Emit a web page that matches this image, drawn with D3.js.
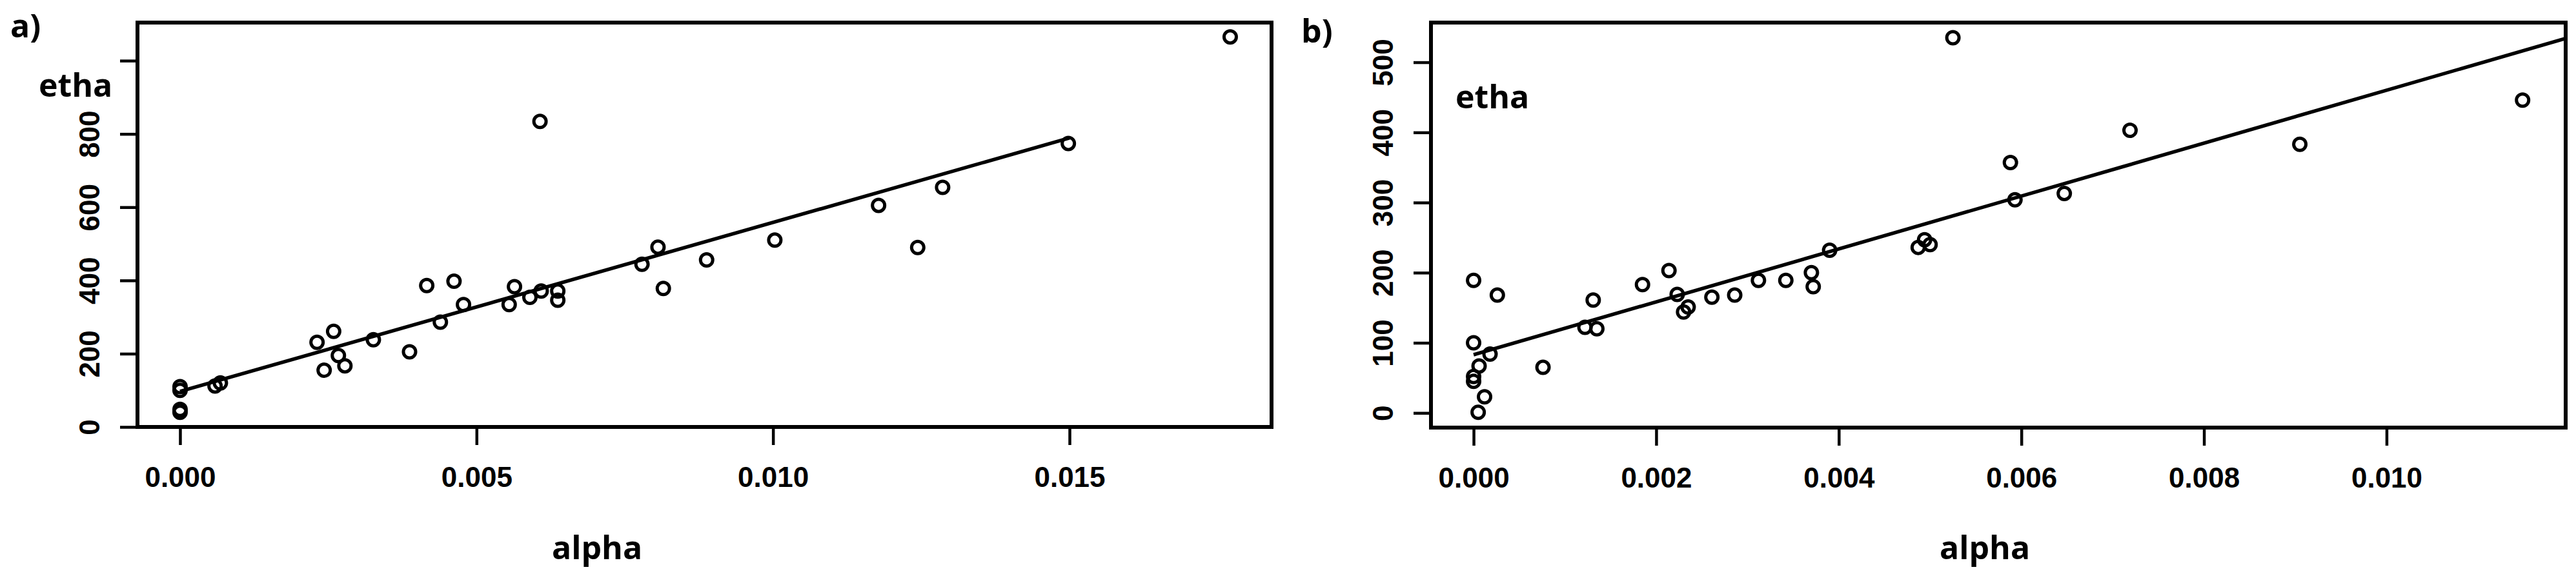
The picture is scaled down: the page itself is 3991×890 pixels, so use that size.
<!DOCTYPE html>
<html>
<head>
<meta charset="utf-8">
<script src="https://cdn.jsdelivr.net/npm/d3@7/dist/d3.min.js"></script>
<style>
  html, body { margin: 0; padding: 0; background: #ffffff; }
  svg { display: block; }
</style>
</head>
<body>
<script>
// ---------------- data ----------------
const alphaA = [0, 0, 0, 0, 0.00059, 0.00068, 0.00231, 0.00259, 0.00243, 0.00267, 0.00278, 0.00326, 0.00387, 0.00416, 0.00439, 0.00462, 0.00478, 0.00555, 0.00564, 0.0059, 0.00609, 0.00607, 0.00637, 0.00637, 0.00779, 0.00806, 0.00815, 0.00888, 0.01003, 0.01178, 0.01244, 0.01286, 0.01498, 0.01771];
const ethaA  = [110, 100, 48, 40, 112, 120, 231, 261, 155, 195, 167, 238, 205, 386, 286, 398, 334, 334, 383, 354, 371, 834, 371, 346, 444, 491, 378, 456, 510, 605, 490, 654, 774, 1065];

const alphaB = [0, 0, 0.00026, 0.00018, 0.00006, 0, 0, 0.00012, 0.00005, 0.00076, 0.00122, 0.00131, 0.00135, 0.00185, 0.00214, 0.00223, 0.0023, 0.00235, 0.00261, 0.00286, 0.00312, 0.00342, 0.0037, 0.00372, 0.0039, 0.00487, 0.00494, 0.005, 0.00525, 0.00588, 0.00593, 0.00647, 0.00719, 0.00905, 0.01149];
const ethaB  = [189, 100, 168, 84, 67, 52, 45, 23, 1, 65, 122, 161, 120, 183, 203, 169, 144, 151, 165, 168, 189, 189, 200, 180, 232, 236, 247, 240, 535, 357, 304, 313, 403, 383, 446];

// fitted regression lines (end points in data units)
const fitAlphaA = [0, 0.015];
const fitEthaA  = [97, 789];
const fitAlphaB = [0, 0.01196];
const fitEthaB  = [83, 534];

// tick values / labels
const xTicksA = [0, 0.005, 0.010, 0.015];
const xTickLabelsA = ["0.000", "0.005", "0.010", "0.015"];
const yTicksA = [0, 200, 400, 600, 800, 1000];
const yTickLabelsA = ["0", "200", "400", "600", "800", ""];

const xTicksB = [0, 0.002, 0.004, 0.006, 0.008, 0.010];
const xTickLabelsB = ["0.000", "0.002", "0.004", "0.006", "0.008", "0.010"];
const yTicksB = [0, 100, 200, 300, 400, 500];
const yTickLabelsB = ["0", "100", "200", "300", "400", "500"];

// ---------------- drawing ----------------
const W = 3991, H = 890;
const svg = d3.select("body").append("svg").attr("width", W).attr("height", H);
svg.append("rect").attr("width", W).attr("height", H).attr("fill", "#fff");

const tickFont = "'Liberation Sans', Arial, sans-serif";
const labelFont = "'Open Sans', 'Noto Sans', sans-serif";

function panel(cfg) {
  const x = d3.scaleLinear().domain(cfg.xDomain).range([cfg.left, cfg.right]);
  const y = d3.scaleLinear().domain(cfg.yDomain).range([cfg.bottom, cfg.top]);
  const g = svg.append("g");

  // x axis
  const xAxis = d3.axisBottom(x).tickValues(cfg.xTicks)
    .tickFormat((d, i) => cfg.xTickLabels[i]).tickSize(28).tickSizeOuter(0);
  const gx = g.append("g").attr("transform", `translate(0,${cfg.bottom})`).call(xAxis);
  gx.select(".domain").remove();
  gx.selectAll(".tick line").attr("stroke", "#000").attr("stroke-width", 4.5);
  gx.selectAll(".tick text")
    .attr("y", 93).attr("dy", 0)
    .attr("font-family", tickFont).attr("font-weight", "bold")
    .attr("font-size", 44).attr("fill", "#000");

  // y axis
  const yAxis = d3.axisLeft(y).tickValues(cfg.yTicks)
    .tickFormat((d, i) => cfg.yTickLabels[i]).tickSize(27).tickSizeOuter(0);
  const gy = g.append("g").attr("transform", `translate(${cfg.left},0)`).call(yAxis);
  gy.select(".domain").remove();
  gy.selectAll(".tick line").attr("stroke", "#000").attr("stroke-width", 4.5);
  gy.selectAll(".tick text")
    .attr("transform", "rotate(-90)")
    .attr("x", 0).attr("y", -59).attr("dy", 0)
    .attr("text-anchor", "middle")
    .attr("font-family", tickFont).attr("font-weight", "bold")
    .attr("font-size", 44).attr("fill", "#000");

  // box
  g.append("rect")
    .attr("x", cfg.left).attr("y", cfg.top)
    .attr("width", cfg.right - cfg.left).attr("height", cfg.bottom - cfg.top)
    .attr("fill", "none").attr("stroke", "#000").attr("stroke-width", 6);

  // regression line
  const line = d3.line().x(d => x(d[0])).y(d => y(d[1]));
  g.append("path")
    .datum(cfg.fitX.map((v, i) => [v, cfg.fitY[i]]))
    .attr("d", line).attr("fill", "none").attr("stroke", "#000").attr("stroke-width", 5.5);

  // points
  g.append("g").selectAll("circle")
    .data(cfg.xs.map((v, i) => [v, cfg.ys[i]]))
    .join("circle")
    .attr("cx", d => x(d[0])).attr("cy", d => y(d[1]))
    .attr("r", 9.5).attr("fill", "none").attr("stroke", "#000").attr("stroke-width", 5);

  // labels
  g.append("text").text(cfg.tag)
    .attr("x", cfg.tagX).attr("y", cfg.tagY)
    .attr("font-family", labelFont).attr("font-weight", "bold").attr("font-size", 50).attr("fill", "#000");
  g.append("text").text("etha")
    .attr("x", cfg.ethaX).attr("y", cfg.ethaY)
    .attr("font-family", labelFont).attr("font-weight", "bold").attr("font-size", 50).attr("fill", "#000");
  g.append("text").text("alpha")
    .attr("x", cfg.alphaX).attr("y", 867)
    .attr("font-family", labelFont).attr("font-weight", "bold").attr("font-size", 50).attr("fill", "#000");
}

panel({
  left: 213, right: 1970, top: 35, bottom: 662,
  xDomain: [-0.000718, 0.018407], yDomain: [0, 1104],
  xTicks: xTicksA, xTickLabels: xTickLabelsA,
  yTicks: yTicksA, yTickLabels: yTickLabelsA,
  xs: alphaA, ys: ethaA, fitX: fitAlphaA, fitY: fitEthaA,
  tag: "a)", tagX: 16, tagY: 58,
  ethaX: 60, ethaY: 150, alphaX: 855
});

panel({
  left: 2217, right: 3975, top: 35, bottom: 663,
  xDomain: [-0.000467, 0.011962], yDomain: [-20.9, 556.6],
  xTicks: xTicksB, xTickLabels: xTickLabelsB,
  yTicks: yTicksB, yTickLabels: yTickLabelsB,
  xs: alphaB, ys: ethaB, fitX: fitAlphaB, fitY: fitEthaB,
  tag: "b)", tagX: 2016, tagY: 66,
  ethaX: 2255, ethaY: 168, alphaX: 3005
});
</script>
</body>
</html>
